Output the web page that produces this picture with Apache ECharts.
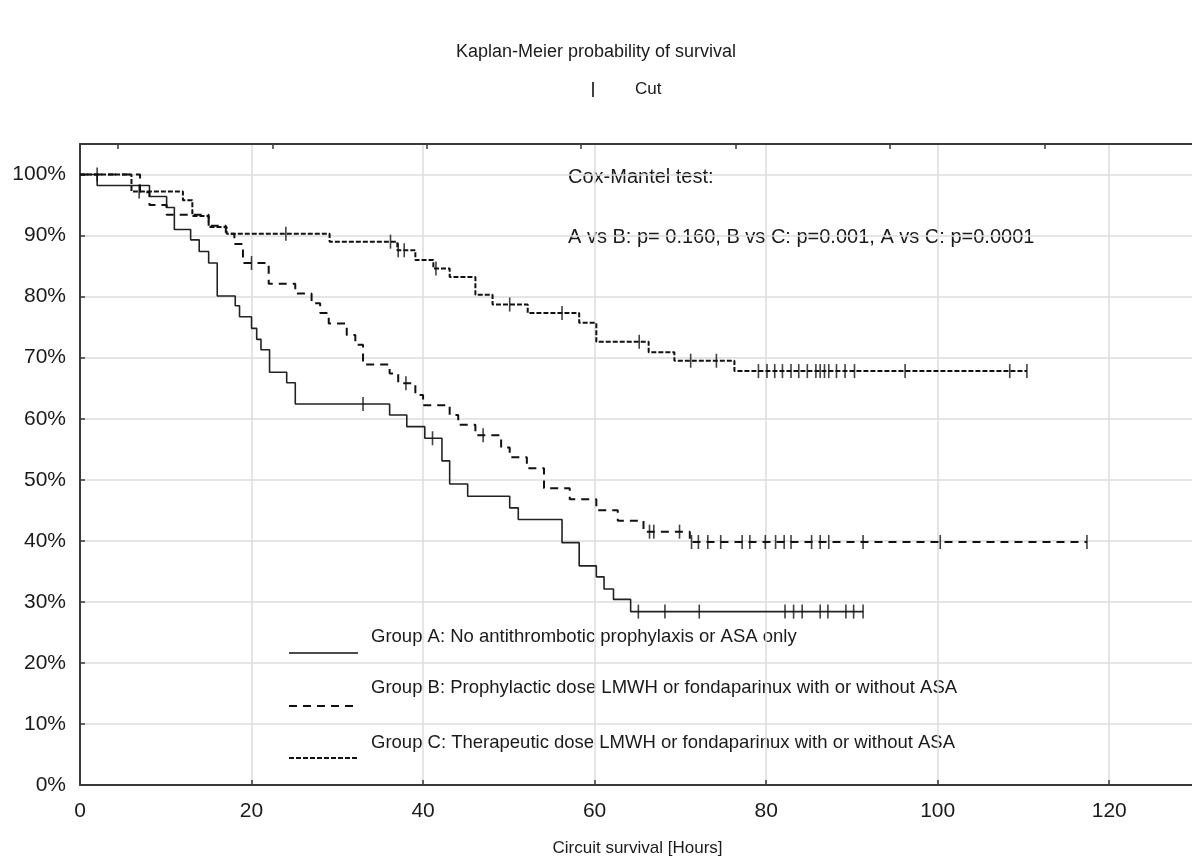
<!DOCTYPE html>
<html>
<head>
<meta charset="utf-8">
<script src="https://cdn.jsdelivr.net/npm/echarts@6/dist/echarts.min.js"></script>
<style>
  html, body { margin: 0; padding: 0; background: #fff; }
  #chart { width: 1192px; height: 861px; }
</style>
</head>
<body>
<div id="chart"></div>
<script>
// Kaplan-Meier steps: [hours, survival %] after each event, last point = end of follow-up
const groupA = [[0, 100], [2, 98.2], [8.1, 96.4], [10.1, 94.6], [11, 91.0], [12.9, 89.3], [13.9, 87.4],
  [15, 85.5], [16, 80.1], [18.1, 78.5], [18.6, 76.7], [20, 74.8], [20.6, 73.0], [21.1, 71.3], [22.1, 67.6],
  [24.1, 65.9], [25.1, 62.4], [36.1, 60.6], [38.1, 58.7], [40.2, 56.8], [42.2, 53.1], [43.1, 49.3],
  [45.2, 47.3], [50.1, 45.4], [51.1, 43.5], [56.2, 39.7], [58.2, 35.9], [60.2, 34.1], [61.1, 32.1],
  [62.2, 30.4], [64.2, 28.4], [91.3, 28.4]];
const groupB = [[0, 100], [7, 97.1], [8.1, 95.0], [10.1, 93.4], [15, 91.6], [17, 90.3], [18, 88.6],
  [19, 85.5], [22, 82.1], [25.1, 80.5], [27, 78.9], [28, 77.3], [29, 75.6], [31.1, 73.7], [32.1, 72.1],
  [33, 68.9], [36.1, 67.4], [37.1, 65.8], [39.1, 63.9], [40, 62.2], [43.1, 60.6], [44.1, 59.0],
  [46.1, 57.3], [49.1, 55.3], [50.1, 53.7], [52.1, 51.9], [54.1, 48.6], [57.1, 46.8], [60.2, 45.0],
  [62.7, 43.3], [65.7, 41.5], [71.1, 39.8], [117.4, 39.8]];
const groupC = [[0, 100], [6, 97.2], [12, 95.8], [13.1, 93.2], [15, 91.4], [17.1, 90.3], [29.1, 89.0],
  [37, 87.6], [39.1, 86.0], [41.2, 84.6], [43.1, 83.2], [46.1, 80.3], [48.1, 78.7], [52.2, 77.3],
  [58.2, 75.7], [60.2, 72.6], [66.3, 70.9], [69.3, 69.5], [76.3, 67.8], [110.4, 67.8]];

// censored observations ("Cut")
const groupACut = [[2, 100], [33, 62.4], [41.1, 56.8], [65.1, 28.4], [68.2, 28.4], [72.2, 28.4],
  [82.2, 28.4], [83.2, 28.4], [84.2, 28.4], [86.3, 28.4], [87.2, 28.4], [89.3, 28.4], [90.2, 28.4], [91.3, 28.4]];
const groupBCut = [[20, 85.5], [38, 65.8], [47, 57.3], [66.4, 41.5], [66.9, 41.5], [69.9, 41.5],
  [71.3, 39.8], [72.1, 39.8], [73.2, 39.8], [74.7, 39.8], [77.2, 39.8], [78.1, 39.8], [79.9, 39.8],
  [81.1, 39.8], [82.1, 39.8], [82.9, 39.8], [85.3, 39.8], [86.3, 39.8], [87.3, 39.8], [91.3, 39.8],
  [100.3, 39.8], [117.4, 39.8]];
const groupCCut = [[6.9, 97.2], [24, 90.3], [36.2, 89.0], [37.1, 87.6], [37.8, 87.6], [41.5, 84.6],
  [50.1, 78.7], [56.2, 77.3], [65.2, 72.6], [71.2, 69.5], [74.2, 69.5], [79.1, 67.8], [80.1, 67.8],
  [81, 67.8], [81.9, 67.8], [82.9, 67.8], [83.8, 67.8], [84.8, 67.8], [85.8, 67.8], [86.3, 67.8],
  [86.8, 67.8], [87.3, 67.8], [88.2, 67.8], [89.2, 67.8], [90.3, 67.8], [96.2, 67.8], [108.4, 67.8],
  [110.4, 67.8]];

const groupNames = [
  'Group A: No antithrombotic prophylaxis or ASA only',
  'Group B: Prophylactic dose LMWH or fondaparinux with or without ASA',
  'Group C: Therapeutic dose LMWH or fondaparinux with or without ASA'
];
const topTicks = [4.43, 22.43, 40.43, 58.43, 76.43, 94.43, 112.43];

const FONT = 'Liberation Sans, Arial, sans-serif';
const INK = '#1a1a1a';
const AXIS = '#3a3a3a';

const chart = echarts.init(document.getElementById('chart'));

function legendLine(y, dash) {
  return {
    type: 'line',
    shape: { x1: 289, y1: y, x2: 358, y2: y },
    style: { stroke: '#111', lineWidth: dash ? 2 : 1.5, lineDash: dash || null }
  };
}
function label(x, y, text, size) {
  return {
    type: 'text', x: x, y: y,
    style: { text: text, font: size + 'px ' + FONT, fill: INK, verticalAlign: 'middle' }
  };
}

chart.setOption({
  animation: false,
  backgroundColor: '#fff',
  title: {
    text: 'Kaplan-Meier probability of survival',
    left: 'center', top: 38,
    textStyle: { fontFamily: FONT, fontSize: 18, fontWeight: 'normal', color: INK }
  },
  legend: {
    data: [{ name: 'Cut', icon: 'rect' }],
    left: 587, top: 76,
    itemWidth: 2, itemHeight: 15,
    formatter: '{g|}{t|Cut}',
    textStyle: {
      rich: {
        g: { width: 36 },
        t: { fontFamily: FONT, fontSize: 17, color: INK }
      }
    }
  },
  grid: { left: 80, right: -3, top: 144, bottom: 76, outerBoundsMode: 'none' },
  xAxis: [{
    type: 'value', min: 0, max: 130, interval: 20,
    name: 'Circuit survival [Hours]', nameLocation: 'middle', nameGap: 55,
    nameTextStyle: { fontFamily: FONT, fontSize: 17, color: INK },
    axisLine: { show: true, onZero: false, lineStyle: { color: AXIS, width: 2 } },
    axisTick: { show: true, inside: true, length: 5, lineStyle: { color: AXIS, width: 1.5 } },
    axisLabel: { fontFamily: FONT, fontSize: 21, color: INK, margin: 16, showMaxLabel: false },
    splitLine: { show: true, lineStyle: { color: '#dcdcdc', width: 1.5 } }
  }, {
    type: 'value', min: 0, max: 130, position: 'top',
    axisLine: { show: true, onZero: false, lineStyle: { color: AXIS, width: 2 } },
    axisTick: { show: true, inside: true, length: 5, customValues: topTicks, lineStyle: { color: AXIS, width: 1.5 } },
    axisLabel: { show: false },
    splitLine: { show: false }
  }],
  yAxis: {
    type: 'value', min: 0, max: 105, interval: 10,
    axisLine: { show: true, onZero: false, lineStyle: { color: AXIS, width: 2 } },
    axisTick: { show: true, inside: true, length: 5, lineStyle: { color: AXIS, width: 1.5 } },
    axisLabel: { fontFamily: FONT, fontSize: 21, color: INK, margin: 14, showMaxLabel: false, formatter: '{value}%' },
    splitLine: { show: true, lineStyle: { color: '#dcdcdc', width: 1.5 } }
  },
  series: [{
    name: 'Group A', type: 'line', step: 'end', data: groupA,
    showSymbol: false, lineStyle: { color: '#222', width: 1.6, type: 'solid' }, z: 3
  }, {
    name: 'Group B', type: 'line', step: 'end', data: groupB,
    showSymbol: false, lineStyle: { color: '#111', width: 2, type: [8, 6] }, z: 3
  }, {
    name: 'Group C', type: 'line', step: 'end', data: groupC,
    showSymbol: false, lineStyle: { color: '#111', width: 2, type: [5, 2] }, z: 3
  }, {
    name: 'Cut', type: 'scatter',
    data: groupACut.concat(groupBCut, groupCCut),
    symbol: 'rect', symbolSize: [1.6, 14],
    itemStyle: { color: '#111' }, z: 4
  }],
  graphic: [
    label(568, 177, 'Cox-Mantel test:', 20),
    label(568, 237, 'A vs B: p= 0.160, B vs C: p=0.001, A vs C: p=0.0001', 20),
    legendLine(653, null),
    label(371, 637, groupNames[0], 18.5),
    legendLine(706, [8, 6]),
    label(371, 688, groupNames[1], 18.5),
    legendLine(758, [5, 2]),
    label(371, 743, groupNames[2], 18.5)
  ]
});
</script>
</body>
</html>
